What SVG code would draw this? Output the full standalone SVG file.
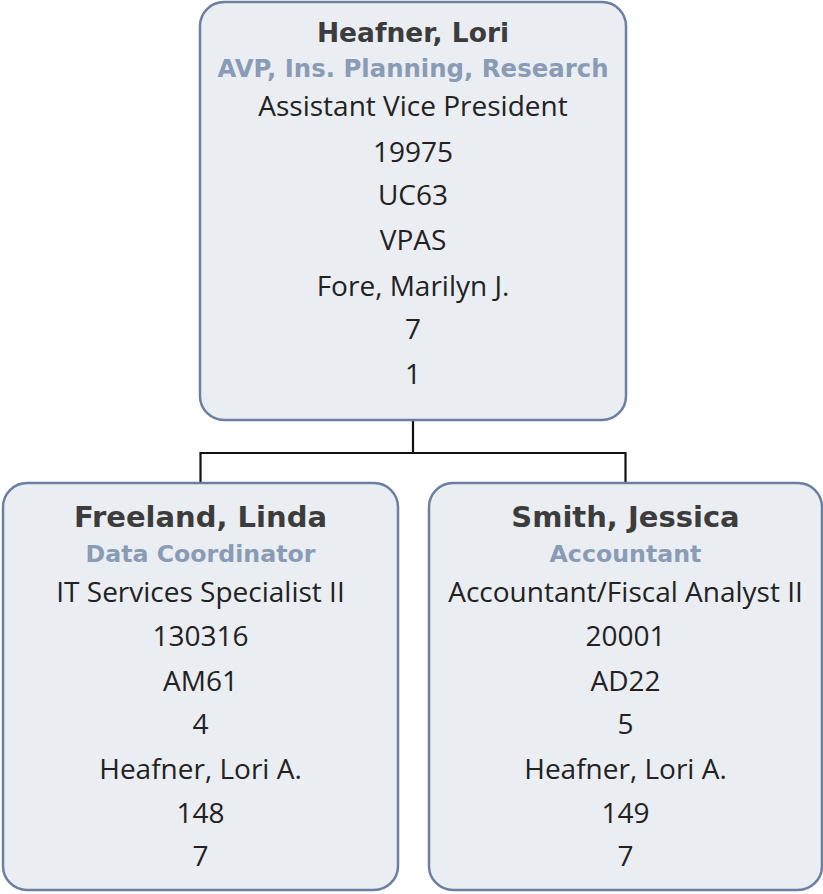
<svg xmlns="http://www.w3.org/2000/svg" width="823" height="894" viewBox="0 0 823 894">
<style>
.box{fill:#eaeef2;stroke:#6a7fa1;stroke-width:2.5}
.nm{font-family:"DejaVu Sans",sans-serif;font-weight:bold;fill:#3c3c3c;text-anchor:middle}
.sb{font-family:"DejaVu Sans",sans-serif;font-weight:bold;fill:#8a9bb5;text-anchor:middle}
.tx{font-family:"Open Sans",sans-serif;fill:#222;text-anchor:middle;font-size:28px}
.con{fill:none;stroke:#111;stroke-width:2.2}
</style>
<g id="connectors">
<path class="con" d="M413 420 V453 M200.5 483 V453 H625.5 V483"/>
</g>
<g id="node-heafner">
<rect class="box" x="200" y="2" width="426" height="418" rx="24"/>
<text class="nm" x="413" y="42" font-size="26.5">Heafner, Lori</text>
<text class="sb" x="413" y="77" font-size="24.4">AVP, Ins. Planning, Research</text>
<text class="tx" x="413" y="116">Assistant Vice President</text>
<text class="tx" x="413" y="162">19975</text>
<text class="tx" x="413" y="205">UC63</text>
<text class="tx" x="413" y="250">VPAS</text>
<text class="tx" x="413" y="296">Fore, Marilyn J.</text>
<text class="tx" x="413" y="339">7</text>
<text class="tx" x="413" y="384">1</text>
</g>
<g id="node-freeland">
<rect class="box" x="3" y="483" width="395" height="407" rx="24"/>
<text class="nm" x="200.5" y="527" font-size="29">Freeland, Linda</text>
<text class="sb" x="200.5" y="562" font-size="23.7">Data Coordinator</text>
<text class="tx" x="200.5" y="602">IT Services Specialist II</text>
<text class="tx" x="200.5" y="646">130316</text>
<text class="tx" x="200.5" y="691">AM61</text>
<text class="tx" x="200.5" y="734">4</text>
<text class="tx" x="200.5" y="779">Heafner, Lori A.</text>
<text class="tx" x="200.5" y="823">148</text>
<text class="tx" x="200.5" y="866">7</text>
</g>
<g id="node-smith">
<rect class="box" x="429" y="483" width="393" height="407" rx="24"/>
<text class="nm" x="625.5" y="527" font-size="29">Smith, Jessica</text>
<text class="sb" x="625.5" y="562" font-size="23.7">Accountant</text>
<text class="tx" x="625.5" y="602">Accountant/Fiscal Analyst II</text>
<text class="tx" x="625.5" y="646">20001</text>
<text class="tx" x="625.5" y="691">AD22</text>
<text class="tx" x="625.5" y="734">5</text>
<text class="tx" x="625.5" y="779">Heafner, Lori A.</text>
<text class="tx" x="625.5" y="823">149</text>
<text class="tx" x="625.5" y="866">7</text>
</g>
</svg>
